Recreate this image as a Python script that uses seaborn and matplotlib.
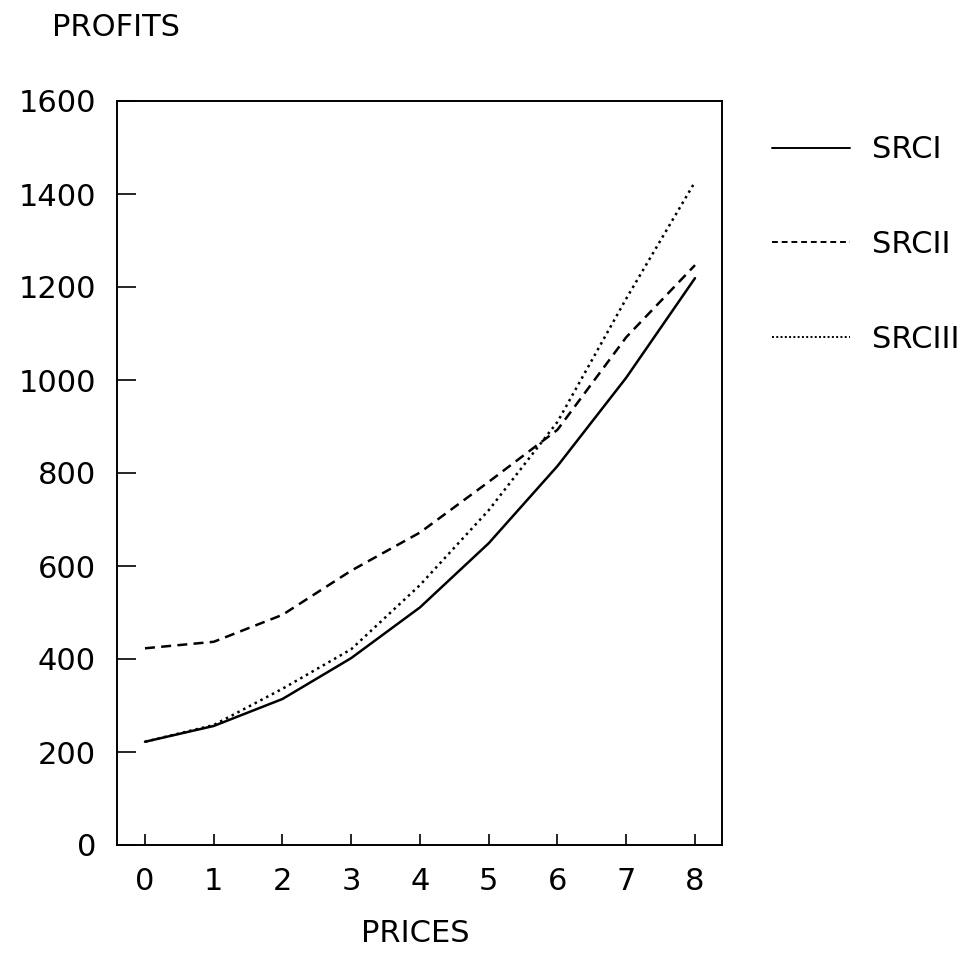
import matplotlib
matplotlib.use("Agg")
import matplotlib.pyplot as plt
import seaborn as sns
import pandas as pd
from matplotlib.lines import Line2D

prices = [0, 1, 2, 3, 4, 5, 6, 7, 8]
srci = [222, 256, 314, 402, 511, 649, 815, 1005, 1219]
srcii = [423, 437, 495, 590, 672, 781, 893, 1092, 1247]
srciii = [222, 258, 336, 421, 559, 720, 910, 1175, 1426]
series_names = ["SRCI", "SRCII", "SRCIII"]
y_ticks = [0, 200, 400, 600, 800, 1000, 1200, 1400, 1600]

df = pd.DataFrame({
    "price": prices * 3,
    "profit": srci + srcii + srciii,
    "series": [s for s in series_names for _ in prices],
})

sns.set_theme(style="white")
plt.rcParams["font.family"] = ["DejaVu Sans"]
plt.rcParams["text.color"] = "black"
plt.rcParams["xtick.color"] = "black"
plt.rcParams["ytick.color"] = "black"

fig = plt.figure(figsize=(9.70, 9.61), dpi=100)
ax = fig.add_axes([117/970, 1-845/961, (722-117)/970, (845-101)/961])

dash_map = {"SRCI": "", "SRCII": (4, 2.5), "SRCIII": (1, 1.6)}
sns.lineplot(data=df, x="price", y="profit", style="series", dashes=dash_map,
             color="black", linewidth=1.8, ax=ax, legend=False)

ax.set_xlim(-0.407, 8.393)
ax.set_ylim(0, 1600)
ax.set_xticks(prices)
ax.set_yticks(y_ticks)
ax.set_xticklabels([str(p) for p in prices], fontsize=22)
ax.set_yticklabels([str(v) for v in y_ticks], fontsize=22)
ax.tick_params(axis="x", bottom=True, direction="in", length=8, width=1.2,
               pad=16, colors="black")
ax.tick_params(axis="y", left=True, direction="in", length=14, width=1.2,
               pad=15, colors="black")
ax.set_xlabel("")
ax.set_ylabel("")
for sp in ax.spines.values():
    sp.set_visible(True)
    sp.set_color("black")
    sp.set_linewidth(1.4)

fig.text(116/970, 1-28/961, "PROFITS", fontsize=22, ha="center", va="center",
         color="black")
fig.text(415/970, 1-934/961, "PRICES", fontsize=22, ha="center", va="center",
         color="black")

handles = [
    Line2D([], [], color="black", linewidth=1.4, linestyle="-"),
    Line2D([], [], color="black", linewidth=1.4, linestyle=(0, (3, 2))),
    Line2D([], [], color="black", linewidth=1.4, linestyle=(0, (1, 1.2))),
]
leg = fig.legend(handles, series_names, loc="upper left",
                 bbox_to_anchor=(760/970, 1-123/961), frameon=False,
                 fontsize=22, handlelength=2.55, handletextpad=0.72,
                 labelspacing=2.15, borderaxespad=0)
for t in leg.get_texts():
    t.set_color("black")

fig.savefig("out.png", dpi=100)
